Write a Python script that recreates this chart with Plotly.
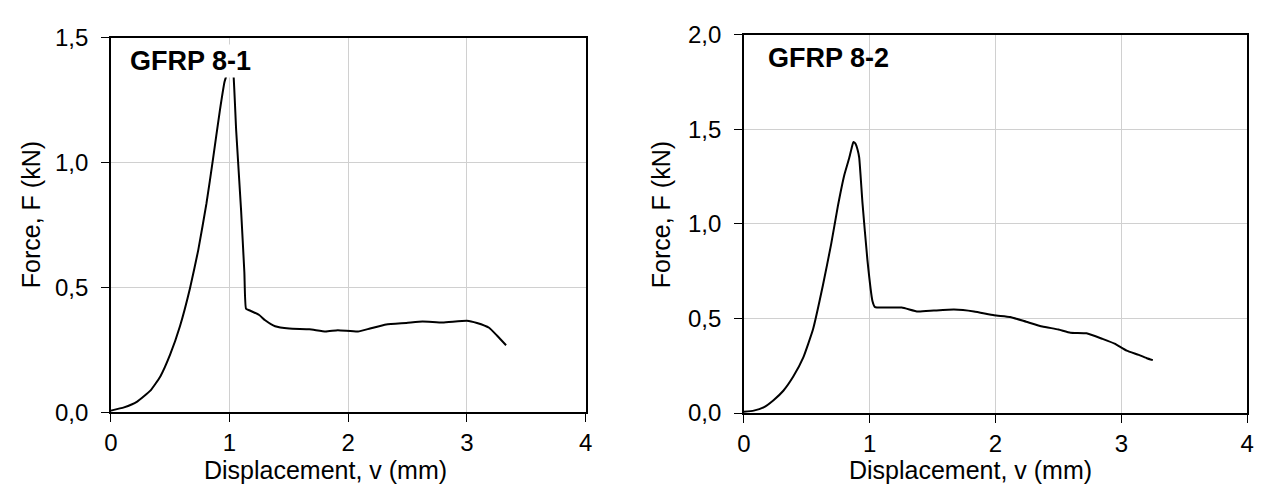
import plotly.graph_objects as go

# ---- data ----
x1 = [0.0, 0.111, 0.222, 0.333, 0.417, 0.500, 0.583, 0.667, 0.736, 0.806, 0.861, 0.917, 0.958, 0.978,
      0.995, 1.015, 1.033, 1.056, 1.097, 1.125, 1.139, 1.167, 1.250, 1.300, 1.384, 1.503, 1.673,
      1.810, 1.912, 2.082, 2.184, 2.320, 2.490, 2.626, 2.796, 3.000, 3.085, 3.187, 3.255, 3.330]
y1 = [0.006, 0.019, 0.042, 0.086, 0.143, 0.231, 0.345, 0.496, 0.648, 0.837, 1.014, 1.203, 1.323, 1.355,
      1.410, 1.410, 1.355, 1.128, 0.812, 0.559, 0.414, 0.408, 0.389, 0.368, 0.344, 0.335, 0.332,
      0.323, 0.328, 0.323, 0.335, 0.351, 0.357, 0.363, 0.359, 0.366, 0.357, 0.338, 0.306, 0.268]

x2 = [0.0, 0.079, 0.157, 0.236, 0.314, 0.393, 0.472, 0.550, 0.629, 0.694, 0.747, 0.799, 0.838, 0.860,
      0.871, 0.887, 0.905, 0.917, 0.943, 0.982, 1.022, 1.043, 1.126, 1.255, 1.382, 1.510, 1.670,
      1.829, 1.989, 2.116, 2.244, 2.372, 2.500, 2.595, 2.723, 2.850, 2.946, 3.042, 3.138, 3.202, 3.250]
y2 = [0.007, 0.013, 0.030, 0.068, 0.118, 0.193, 0.293, 0.443, 0.677, 0.893, 1.093, 1.260, 1.350, 1.410,
      1.433, 1.425, 1.390, 1.350, 1.110, 0.810, 0.593, 0.560, 0.558, 0.558, 0.537, 0.542, 0.547,
      0.537, 0.517, 0.508, 0.483, 0.458, 0.442, 0.425, 0.422, 0.392, 0.367, 0.330, 0.308, 0.290, 0.280]

x_ticks = [0, 1, 2, 3, 4]
x_ticktext = ["0", "1", "2", "3", "4"]
y1_ticks = [0, 0.5, 1.0, 1.5]
y1_ticktext = ["0,0", "0,5", "1,0", "1,5"]
y2_ticks = [0, 0.5, 1.0, 1.5, 2.0]
y2_ticktext = ["0,0", "0,5", "1,0", "1,5", "2,0"]
labels = ["GFRP 8-1", "GFRP 8-2"]
x_title = "Displacement, v (mm)"
y_title = "Force, F (kN)"

W, H = 1274, 497
FONT = "Liberation Sans, Arial, sans-serif"
TICKSIZE = 24
TITLESIZE = 25

fig = go.Figure()
fig.add_trace(go.Scatter(x=x1, y=y1, mode="lines",
                         line=dict(color="black", width=2, shape="spline", smoothing=0.4),
                         xaxis="x", yaxis="y", showlegend=False))
fig.add_trace(go.Scatter(x=x2, y=y2, mode="lines",
                         line=dict(color="black", width=2, shape="spline", smoothing=0.4),
                         xaxis="x2", yaxis="y2", showlegend=False))

def px(v):
    return v / W

def py(v):
    return 1 - v / H

axis_common = dict(showline=True, linecolor="black", linewidth=1.5, mirror=True,
                   ticks="outside", ticklen=8, tickcolor="black", tickwidth=1,
                   showgrid=True, gridcolor="#d0d0d0", gridwidth=1, zeroline=False,
                   tickfont=dict(family=FONT, size=TICKSIZE, color="black"))

fig.update_layout(
    width=W, height=H,
    margin=dict(l=0, r=0, t=0, b=0),
    paper_bgcolor="white", plot_bgcolor="white",
    font=dict(family=FONT, color="black"),
    xaxis=dict(domain=[px(105), px(585)], range=[0, 4], tickvals=x_ticks, ticktext=x_ticktext,
               anchor="y", **axis_common),
    yaxis=dict(domain=[py(421), py(25)], range=[0, 1.5], tickvals=y1_ticks, ticktext=y1_ticktext,
               anchor="x", ticklabelstandoff=8, **axis_common),
    xaxis2=dict(domain=[px(745), px(1254)], range=[0, 4], tickvals=x_ticks, ticktext=x_ticktext,
                anchor="y2", **axis_common),
    yaxis2=dict(domain=[py(422), py(22)], range=[0, 2.0], tickvals=y2_ticks, ticktext=y2_ticktext,
                anchor="x2", ticklabelstandoff=8, **axis_common),
)

ann = []
# panel labels
ann.append(dict(text="<b>%s</b>" % labels[0], x=px(122), y=py(50), xref="paper", yref="paper",
                xanchor="left", yanchor="middle", showarrow=False, bgcolor="white", borderpad=1,
                font=dict(family=FONT, size=27, color="black")))
ann.append(dict(text="<b>%s</b>" % labels[1], x=px(767), y=py(47), xref="paper", yref="paper",
                xanchor="left", yanchor="middle", showarrow=False,
                font=dict(family=FONT, size=27, color="black")))
# axis titles
for cx in (322, 974):
    ann.append(dict(text=x_title, x=px(cx), y=py(482), xref="paper", yref="paper",
                    xanchor="center", yanchor="middle", showarrow=False,
                    font=dict(family=FONT, size=TITLESIZE, color="black")))
for cx in (25, 662):
    ann.append(dict(text=y_title, x=px(cx), y=py(212), xref="paper", yref="paper",
                    xanchor="center", yanchor="middle", showarrow=False, textangle=-90,
                    font=dict(family=FONT, size=TITLESIZE, color="black")))
fig.update_layout(annotations=ann)

fig.write_html("out.html")
